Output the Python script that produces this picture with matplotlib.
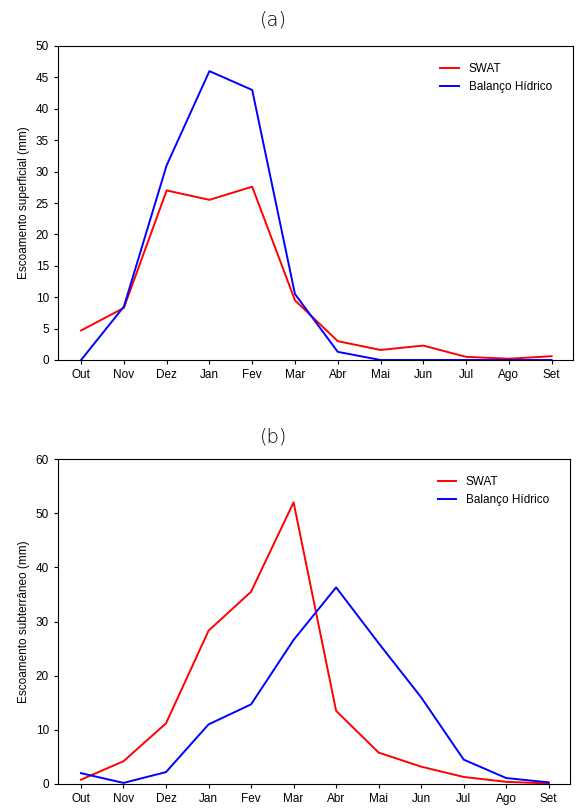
import numpy as np
import matplotlib.pyplot as plt

plt.rcParams['font.family'] = ['Liberation Sans', 'DejaVu Sans']

months = ['Out', 'Nov', 'Dez', 'Jan', 'Fev', 'Mar', 'Abr', 'Mai', 'Jun', 'Jul', 'Ago', 'Set']

# (a) escoamento superficial
swat_sup = [4.7, 8.3, 27.0, 25.5, 27.6, 9.5, 3.0, 1.6, 2.3, 0.5, 0.2, 0.6]
bh_sup = [0.0, 8.5, 31.0, 46.0, 43.0, 10.5, 1.3, 0.0, 0.0, 0.0, 0.0, 0.0]

# (b) escoamento subterraneo
swat_sub = [0.8, 4.2, 11.2, 28.3, 35.5, 52.0, 13.5, 5.8, 3.2, 1.3, 0.4, 0.1]
bh_sub = [2.0, 0.2, 2.2, 11.0, 14.7, 26.6, 36.3, 26.0, 16.0, 4.5, 1.1, 0.3]

fig = plt.figure(figsize=(5.76, 8.1), dpi=100)
W, H = 576, 810

def make_ax(left, top, right, bottom):
    return fig.add_axes([left / W, 1 - bottom / H, (right - left) / W, (bottom - top) / H])

x = np.arange(len(months))

panels = [
    (make_ax(58, 46, 573, 360), swat_sup, bh_sup, 'Escoamento superficial (mm)', (0, 50), 5, '(a)', 20),
    (make_ax(58, 459, 570, 784), swat_sub, bh_sub, 'Escoamento subterrâneo (mm)', (0, 60), 10, '(b)', 437),
]

for ax, s, b, ylabel, ylim, step, title, ty in panels:
    ax.plot(x, s, color='#ff0000', lw=1.4, label='SWAT')
    ax.plot(x, b, color='#0000ff', lw=1.4, label='Balanço Hídrico')
    ax.set_xlim(-0.54, 11.5)
    ax.set_ylim(*ylim)
    ax.set_yticks(np.arange(ylim[0], ylim[1] + 0.1, step))
    ax.set_xticks(x)
    ax.set_xticklabels(months)
    ax.tick_params(labelsize=8.5, direction='out', length=3)
    ax.set_ylabel(ylabel, fontsize=8.5)
    ax.legend(loc='upper right', frameon=False, fontsize=8.5, bbox_to_anchor=(0.98, 0.98), handlelength=1.6)
    fig.text(0.475, 1 - ty / H, title, ha='center', va='center', fontsize=14, family='DejaVu Sans', weight='light')

fig.savefig('out.png', dpi=100)
